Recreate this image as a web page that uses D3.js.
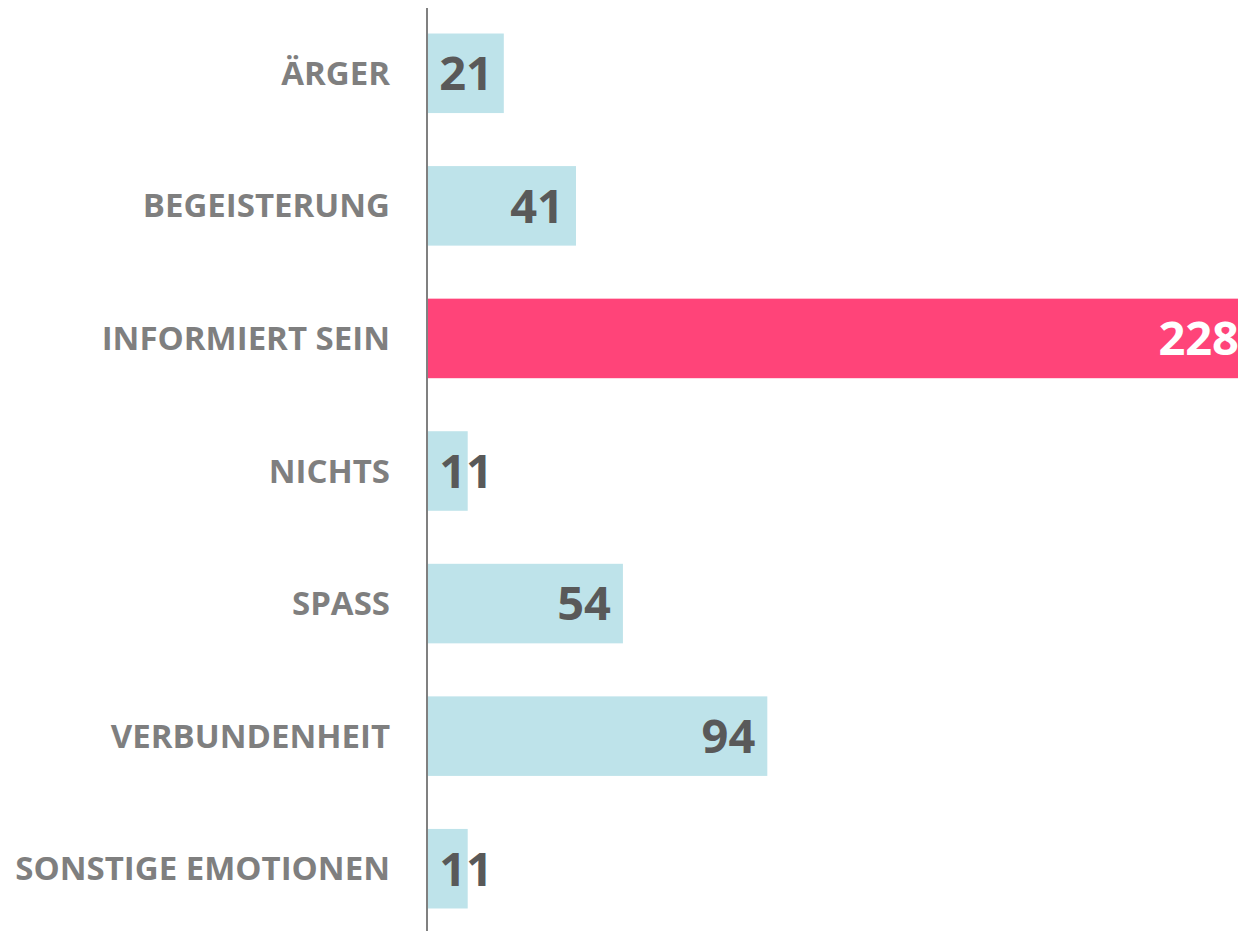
<!DOCTYPE html>
<html lang="de">
<head>
  <meta charset="UTF-8">
  <title>Emotionen</title>
  <style>
    body { margin: 0; overflow: hidden; background: #fff; }
    .cat { font-family: "Open Sans", sans-serif; font-weight: 700; fill: #7f7f7f; }
    .val { font-family: "Open Sans", sans-serif; font-weight: 700; }
  </style>
</head>
<body>
  <script src="https://d3js.org/d3.v7.min.js"></script>
  <script>
    // Kategorien und Werte
    const categories = ["ÄRGER", "BEGEISTERUNG", "INFORMIERT SEIN", "NICHTS", "SPASS", "VERBUNDENHEIT", "SONSTIGE EMOTIONEN"];
    const values = [21, 41, 228, 11, 54, 94, 11];
    const highlight = ["INFORMIERT SEIN"];

    const width = 1238, height = 931;
    const x0 = 428;

    const svg = d3.select("body").append("svg")
      .attr("width", width)
      .attr("height", height);

    const data = categories.map((c, i) => ({ cat: c, value: values[i] }));

    // der größte Balken läuft etwas über den rechten Rand hinaus
    const x = d3.scaleLinear()
      .domain([0, 228])
      .range([x0, 1251]);

    const y = d3.scaleBand()
      .domain(categories)
      .range([7, 935])
      .paddingInner(0.4)
      .paddingOuter(0.2);

    // Balken
    svg.append("g")
      .selectAll("rect")
      .data(data)
      .join("rect")
      .attr("x", x0)
      .attr("y", d => y(d.cat))
      .attr("width", d => x(d.value) - x0)
      .attr("height", y.bandwidth())
      .attr("fill", d => highlight.includes(d.cat) ? "#ff4479" : "#bee3ea");

    // Achse
    svg.append("line")
      .attr("x1", x0 - 1).attr("x2", x0 - 1)
      .attr("y1", 8).attr("y2", height)
      .attr("stroke", "#808080")
      .attr("stroke-width", 2);

    // Kategorie-Beschriftung
    svg.append("g")
      .selectAll("text")
      .data(data)
      .join("text")
      .attr("class", "cat")
      .attr("x", 390)
      .attr("y", d => y(d.cat) + y.bandwidth() / 2)
      .attr("dy", "0.35em")
      .attr("text-anchor", "end")
      .attr("font-size", "33px")
      .text(d => d.cat);

    // Wert-Beschriftung
    svg.append("g")
      .selectAll("text")
      .data(data)
      .join("text")
      .attr("class", "val")
      .attr("x", d => Math.max(x(d.value) - 12, x0 + 65))
      .attr("y", d => y(d.cat) + y.bandwidth() / 2)
      .attr("dy", "0.36em")
      .attr("text-anchor", "end")
      .attr("font-size", "47px")
      .attr("fill", d => highlight.includes(d.cat) ? "#ffffff" : "#595959")
      .text(d => d.value);
  </script>
</body>
</html>
